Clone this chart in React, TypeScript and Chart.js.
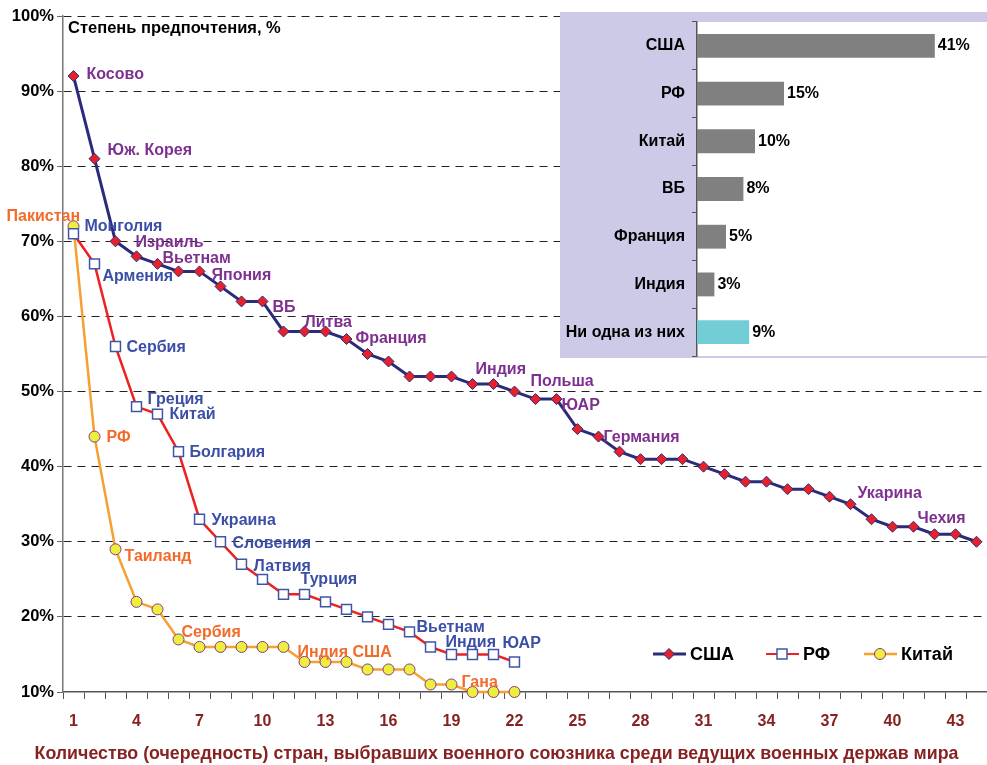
import React, { useEffect, useRef } from "react";
import { Chart, registerables } from "chart.js";

Chart.register(...registerables);

const FONT = '"Liberation Sans", Arial, Helvetica, sans-serif';

// ---------- data ----------
const usaValues = [92, 81, 70, 68, 67, 66, 66, 64, 62, 62, 58, 58, 58, 57, 55, 54, 52, 52, 52, 51, 51, 50, 49, 49, 45, 44, 42, 41, 41, 41, 40, 39, 38, 38, 37, 37, 36, 35, 33, 32, 32, 31, 31, 30];
const rfValues = [71, 67, 56, 48, 47, 42, 33, 30, 27, 25, 23, 23, 22, 21, 20, 19, 18, 16, 15, 15, 15, 14];
const chinaValues = [72, 44, 29, 22, 21, 17, 16, 16, 16, 16, 16, 14, 14, 14, 13, 13, 13, 11, 11, 10, 10, 10];

const seriesNames = ["США", "РФ", "Китай"];
const xTickLabels = [1, 4, 7, 10, 13, 16, 19, 22, 25, 28, 31, 34, 37, 40, 43];
const yTickValues = [10, 20, 30, 40, 50, 60, 70, 80, 90, 100];
const xTitle = "Количество (очередность) стран, выбравших военного союзника среди ведущих военных держав мира";
const yTitle = "Степень предпочтения, %";

// point labels: [point number, text]
const usaLabels: [number, string][] = [
  [1, "Косово"], [2, "Юж. Корея"], [4, "Израиль"], [5, "Вьетнам"], [7, "Япония"], [10, "ВБ"],
  [12, "Литва"], [14, "Франция"], [20, "Индия"], [22, "Польша"], [24, "ЮАР"], [26, "Германия"],
  [38, "Укарина"], [41, "Чехия"],
];
const rfLabels: [number, string][] = [
  [1, "Монголия"], [2, "Армения"], [3, "Сербия"], [4, "Греция"], [5, "Китай"], [6, "Болгария"],
  [7, "Украина"], [8, "Словения"], [9, "Латвия"], [12, "Турция"], [17, "Вьетнам"], [18, "Индия"], [21, "ЮАР"],
];
const chinaLabels: [number, string][] = [
  [1, "Пакистан"], [2, "РФ"], [3, "Таиланд"], [6, "Сербия"], [12, "Индия"], [14, "США"], [19, "Гана"],
];

const insetLabels = ["США", "РФ", "Китай", "ВБ", "Франция", "Индия", "Ни одна из них"];
const insetValues = [41, 15, 10, 8, 5, 3, 9];

// ---------- layout (pixel offsets of the point labels) ----------
const usaLabelOffsets = [[13, -1], [13, -8], [-1, -14], [5, -5], [12, 4], [10, 6], [0, -9], [9, 0], [3, -14], [16, -10], [5, 7], [5, 1], [7, -11], [4, -8]];
const rfLabelOffsets = [[11, -7], [8, 13], [11, 1], [11, -7], [12, 1], [11, 1], [12, 1], [12, 2], [12, 2], [-4, -15], [7, -4], [15, -4], [9, -11]];
const chinaLabelOffsets = [[-67, -10], [12, 1], [9, 7], [3, -7], [-7, -9], [6, -9], [10, -2]];

const USA_LINE = "#2B2B7A";
const USA_MARK = "#E8202A";
const RF_LINE = "#EE2020";
const RF_MARK_BORDER = "#3F56A8";
const CN_LINE = "#F5A030";
const CN_MARK = "#EEEE3C";
const CN_MARK_BORDER = "#7E3A8E";
const USA_TEXT = "#7E3090";
const RF_TEXT = "#3C4FA6";
const CN_TEXT = "#F26B2A";
const AXIS_RED = "#862222";

function drawMarker(ctx: CanvasRenderingContext2D, kind: string, x: number, y: number) {
  ctx.save();
  ctx.beginPath();
  if (kind === "diamond") {
    ctx.moveTo(x, y - 5.5); ctx.lineTo(x + 5.5, y); ctx.lineTo(x, y + 5.5); ctx.lineTo(x - 5.5, y); ctx.closePath();
    ctx.fillStyle = USA_MARK; ctx.strokeStyle = USA_LINE; ctx.lineWidth = 1;
  } else if (kind === "square") {
    ctx.rect(x - 5, y - 5, 10, 10);
    ctx.fillStyle = "#fff"; ctx.strokeStyle = RF_MARK_BORDER; ctx.lineWidth = 1.5;
  } else {
    ctx.arc(x, y, 5.5, 0, Math.PI * 2);
    ctx.fillStyle = CN_MARK; ctx.strokeStyle = CN_MARK_BORDER; ctx.lineWidth = 1;
  }
  ctx.fill(); ctx.stroke();
  ctx.restore();
}

const annotationPlugin = {
  id: "annotations",
  afterDatasetsDraw(chart: any) {
    const ctx: CanvasRenderingContext2D = chart.ctx;
    const area = chart.chartArea;
    ctx.save();
    ctx.textBaseline = "middle";
    ctx.textAlign = "left";
    // y title
    ctx.fillStyle = "#000";
    ctx.font = `bold 16.5px ${FONT}`;
    ctx.fillText(yTitle, area.left + 5, area.top + 12);
    // x title (centred on the page)
    ctx.textAlign = "center";
    ctx.fillStyle = AXIS_RED;
    ctx.font = `bold 17.8px ${FONT}`;
    ctx.fillText(xTitle, chart.width / 2 + 3, chart.height - 11);
    ctx.textAlign = "left";
    // point labels
    const sets = [
      { ds: 0, labels: usaLabels, offs: usaLabelOffsets, color: USA_TEXT },
      { ds: 1, labels: rfLabels, offs: rfLabelOffsets, color: RF_TEXT },
      { ds: 2, labels: chinaLabels, offs: chinaLabelOffsets, color: CN_TEXT },
    ];
    ctx.font = `bold 16px ${FONT}`;
    sets.forEach((s) => {
      const meta = chart.getDatasetMeta(s.ds);
      ctx.fillStyle = s.color;
      s.labels.forEach((lab, k) => {
        const pt = meta.data[lab[0] - 1];
        const [dx, dy] = s.offs[k];
        ctx.fillText(lab[1], pt.x + dx, pt.y + dy);
      });
    });
    // legend
    const ly = area.bottom - 38;
    const items = [
      { x: area.right - 334, kind: "diamond", color: USA_LINE, w: 3 },
      { x: area.right - 221, kind: "square", color: RF_LINE, w: 2 },
      { x: area.right - 123, kind: "circle", color: CN_LINE, w: 2.5 },
    ];
    ctx.font = `bold 18px ${FONT}`;
    items.forEach((it, i) => {
      ctx.beginPath();
      ctx.strokeStyle = it.color;
      ctx.lineWidth = it.w;
      ctx.moveTo(it.x, ly);
      ctx.lineTo(it.x + 33, ly);
      ctx.stroke();
      drawMarker(ctx, it.kind, it.x + 16, ly);
      ctx.fillStyle = "#000";
      ctx.fillText(seriesNames[i], it.x + 37, ly + 1);
    });
    ctx.restore();
  },
};

const insetBgPlugin = {
  id: "insetBg",
  beforeDraw(chart: any) {
    const ctx: CanvasRenderingContext2D = chart.ctx;
    const a = chart.chartArea;
    ctx.save();
    ctx.fillStyle = "#CCCAE6";
    ctx.fillRect(0, 0, chart.width, chart.height);
    ctx.fillStyle = "#fff";
    ctx.fillRect(a.left, a.top, a.right - a.left, a.bottom - a.top);
    ctx.restore();
  },
};

const insetValuePlugin = {
  id: "insetValues",
  afterDatasetsDraw(chart: any) {
    const ctx: CanvasRenderingContext2D = chart.ctx;
    const meta = chart.getDatasetMeta(0);
    ctx.save();
    ctx.font = `bold 16px ${FONT}`;
    ctx.fillStyle = "#000";
    ctx.textAlign = "left";
    ctx.textBaseline = "middle";
    meta.data.forEach((bar: any, i: number) => {
      ctx.fillText(insetValues[i] + "%", bar.x + 3, bar.y);
    });
    ctx.restore();
  },
};

export default function App() {
  const mainRef = useRef<HTMLCanvasElement>(null);
  const insetRef = useRef<HTMLCanvasElement>(null);

  useEffect(() => {
    Chart.defaults.font.family = FONT;
    const halfTicks = Array.from({ length: 45 }, (_, i) => i + 0.5);
    const toPoints = (vals: number[]) => vals.map((v, i) => ({ x: i + 1, y: v }));

    const main = new Chart(mainRef.current!, {
      type: "line",
      data: {
        datasets: [
          {
            label: seriesNames[0],
            data: toPoints(usaValues),
            borderColor: USA_LINE,
            borderWidth: 3,
            pointStyle: "rectRot",
            pointRadius: 5.5,
            pointBackgroundColor: USA_MARK,
            pointBorderColor: USA_LINE,
            pointBorderWidth: 1,
            tension: 0,
            clip: false,
          },
          {
            label: seriesNames[1],
            data: toPoints(rfValues),
            borderColor: RF_LINE,
            borderWidth: 2.5,
            pointStyle: "rect",
            pointRadius: 7,
            pointBackgroundColor: "#fff",
            pointBorderColor: RF_MARK_BORDER,
            pointBorderWidth: 1.5,
            tension: 0,
            clip: false,
          },
          {
            label: seriesNames[2],
            data: toPoints(chinaValues),
            borderColor: CN_LINE,
            borderWidth: 2.5,
            pointStyle: "circle",
            pointRadius: 5.5,
            pointBackgroundColor: CN_MARK,
            pointBorderColor: CN_MARK_BORDER,
            pointBorderWidth: 1,
            tension: 0,
            clip: false,
          },
        ],
      },
      options: {
        responsive: false,
        maintainAspectRatio: false,
        animation: false,
        layout: { autoPadding: false, padding: { top: 16, right: 0, left: 0, bottom: 0 } },
        plugins: { legend: { display: false }, tooltip: { enabled: false } },
        scales: {
          x: {
            type: "linear",
            min: 0.5,
            max: 44.5,
            afterBuildTicks: (s: any) => {
              s.ticks = halfTicks.map((v) => ({ value: v }));
            },
            afterFit: (s: any) => {
              s.height = 73;
              s.paddingLeft = 0;
              s.paddingRight = 0;
            },
            ticks: {
              autoSkip: false,
              maxRotation: 0,
              labelOffset: 10.5,
              padding: 13,
              color: AXIS_RED,
              font: { size: 16, weight: "bold" },
              callback: (v: any) => {
                const n = Math.round(Number(v) + 0.5);
                return xTickLabels.includes(n) ? String(n) : "";
              },
            },
            grid: { drawOnChartArea: false, drawTicks: true, tickLength: 7, color: "#555", lineWidth: 1 },
            border: { color: "#555", width: 1.5 },
          },
          y: {
            min: 10,
            max: 100,
            afterBuildTicks: (s: any) => {
              s.ticks = yTickValues.map((v) => ({ value: v }));
            },
            afterFit: (s: any) => {
              s.width = 63;
            },
            ticks: {
              color: "#000",
              padding: 3,
              font: { size: 16.5, weight: "bold" },
              callback: (v: any) => v + "%",
            },
            grid: {
              color: (c: any) => (c.tick && c.tick.value === 10 ? "rgba(0,0,0,0)" : "#222"),
              tickColor: "#666",
              lineWidth: 1,
              tickLength: 6,
            },
            border: { color: "#777", width: 1.5, dash: [8, 6] },
          },
        },
      },
      plugins: [annotationPlugin],
    } as any);

    const inset = new Chart(insetRef.current!, {
      type: "bar",
      data: {
        labels: insetLabels,
        datasets: [
          {
            data: insetValues,
            backgroundColor: (c: any) => (c.dataIndex === insetLabels.length - 1 ? "#72CDD6" : "#808080"),
            barPercentage: 0.5,
            categoryPercentage: 1,
          },
        ],
      },
      options: {
        indexAxis: "y",
        responsive: false,
        maintainAspectRatio: false,
        animation: false,
        layout: { padding: { top: 10, right: 0, bottom: 2, left: 0 } },
        plugins: { legend: { display: false }, tooltip: { enabled: false } },
        scales: {
          x: { display: false, min: 0, max: 50 },
          y: {
            afterFit: (s: any) => {
              s.width = 137;
              s.paddingTop = 0;
              s.paddingBottom = 0;
            },
            ticks: { color: "#000", padding: 7, font: { size: 16, weight: "bold" } },
            grid: { offset: true, drawOnChartArea: false, drawTicks: true, tickLength: 5, color: "#555" },
            border: { color: "#555", width: 1.5 },
          },
        },
      },
      plugins: [insetBgPlugin, insetValuePlugin],
    } as any);

    return () => {
      main.destroy();
      inset.destroy();
    };
  }, []);

  return (
    <div style={{ position: "absolute", left: 0, top: 0, width: 987, height: 765, background: "#fff" }}>
      <canvas ref={mainRef} width={987} height={765} style={{ position: "absolute", left: 0, top: 0 }} />
      <canvas ref={insetRef} width={427} height={346} style={{ position: "absolute", left: 560, top: 12 }} />
    </div>
  );
}
